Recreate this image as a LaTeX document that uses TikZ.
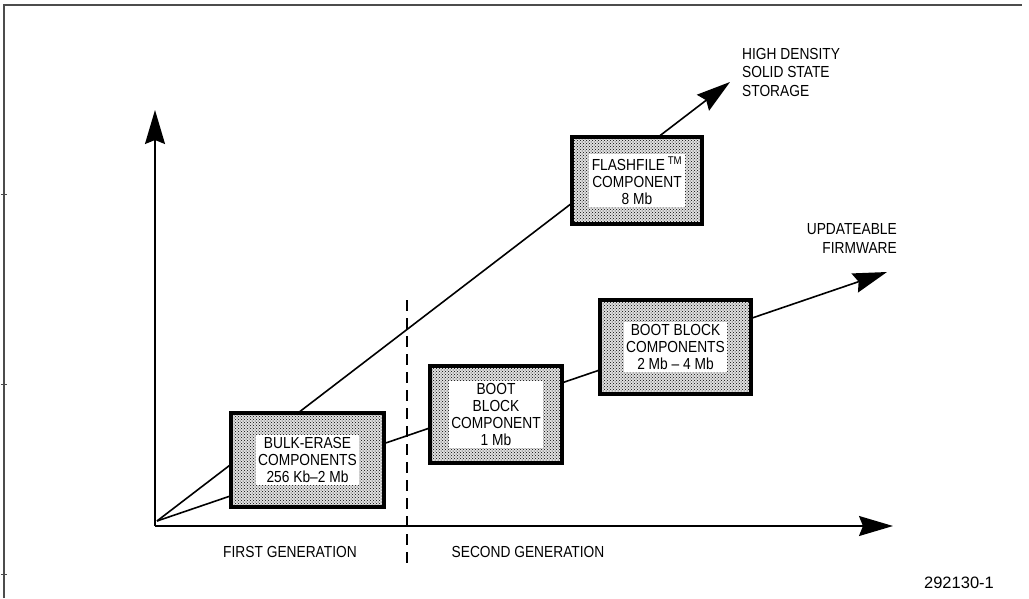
\documentclass[tikz,border=0pt]{standalone}
\usepackage{fontspec}
\setmainfont{Liberation Sans}[FakeStretch=0.86]
\newfontfamily\figfont{Liberation Sans}
\usetikzlibrary{arrows.meta,patterns}
\begin{document}
\begin{tikzpicture}[x=1pt,y=-1pt,
  frame/.style={draw=black!70, line width=2pt},
  axis/.style={draw=black, line width=1.6pt},
  bigarrow/.style={-{Stealth[length=34pt,width=20pt,inset=4pt]}},
  comp/.style={draw=black, line width=3.5pt, preaction={fill=black!12},
    pattern=crosshatch dots, pattern color=black, inner sep=0pt},
  comptext/.style={fill=white, inner sep=2.5pt, align=center,
    font=\fontsize{16}{17}\selectfont},
  lbl/.style={inner sep=0pt, font=\fontsize{16}{18.5}\selectfont},
  genline/.style={draw=black, line width=1.4pt, dash pattern=on 11pt off 7pt}
]
\useasboundingbox (0,0) rectangle (1029,598);
% frame
\draw[frame] (4,598) -- (4,5) -- (1022,5);
\foreach \yy in {194,384,574} \draw[black!70, line width=0.8pt] (1,\yy) -- (7,\yy);

% coordinates
\coordinate (O) at (155,526);
\coordinate (Ytip) at (155,110);
\coordinate (Xtip) at (893,526);
\coordinate (L0) at (157,521);
\coordinate (HDtip) at (730,82);
\coordinate (UFtip) at (887,272);
\coordinate (Dtop) at (407,300);
\coordinate (Dbot) at (407,567);

% axes
\draw[axis,bigarrow] (O) -- (Ytip);
\draw[axis,bigarrow] (O) -- (Xtip);
% generation divider
\draw[genline] (Dtop) -- (Dbot);
% trend lines
\draw[axis,bigarrow] (L0) -- (HDtip);
\draw[axis,bigarrow] (L0) -- (UFtip);

% component boxes
\node[comp, minimum width=153pt, minimum height=94pt] (bulk) at (307.5,460) {};
\node[comp, minimum width=132pt, minimum height=97pt] (boot1) at (496,414.5) {};
\node[comp, minimum width=151pt, minimum height=94pt] (boot2) at (675.5,347) {};
\node[comp, minimum width=130pt, minimum height=87pt] (flash) at (637,180.5) {};

\node[comptext] (bulkt) at (bulk.center) {BULK-ERASE\\COMPONENTS\\256 Kb–2 Mb};
\node[comptext] (boot1t) at (boot1.center) {BOOT\\BLOCK\\COMPONENT\\1 Mb};
\node[comptext] (boot2t) at (boot2.center) {BOOT BLOCK\\COMPONENTS\\2 Mb – 4 Mb};
\node[comptext] (flasht) at (flash.center) {FLASHFILE\,\textsuperscript{TM}\\COMPONENT\\8 Mb};

% labels
\node[lbl, anchor=west, align=left] (hd) at (742,72) {HIGH DENSITY\\SOLID STATE\\STORAGE};
\node[lbl, anchor=east, align=right] (uf) at (897,238.5) {UPDATEABLE\\FIRMWARE};
\node[lbl] (gen1) at (290,552) {FIRST GENERATION};
\node[lbl] (gen2) at (528,552) {SECOND GENERATION};
\node[inner sep=0pt, font=\figfont\fontsize{16.5}{18}\selectfont] (fig) at (959,583) {292130-1};
\end{tikzpicture}
\end{document}
